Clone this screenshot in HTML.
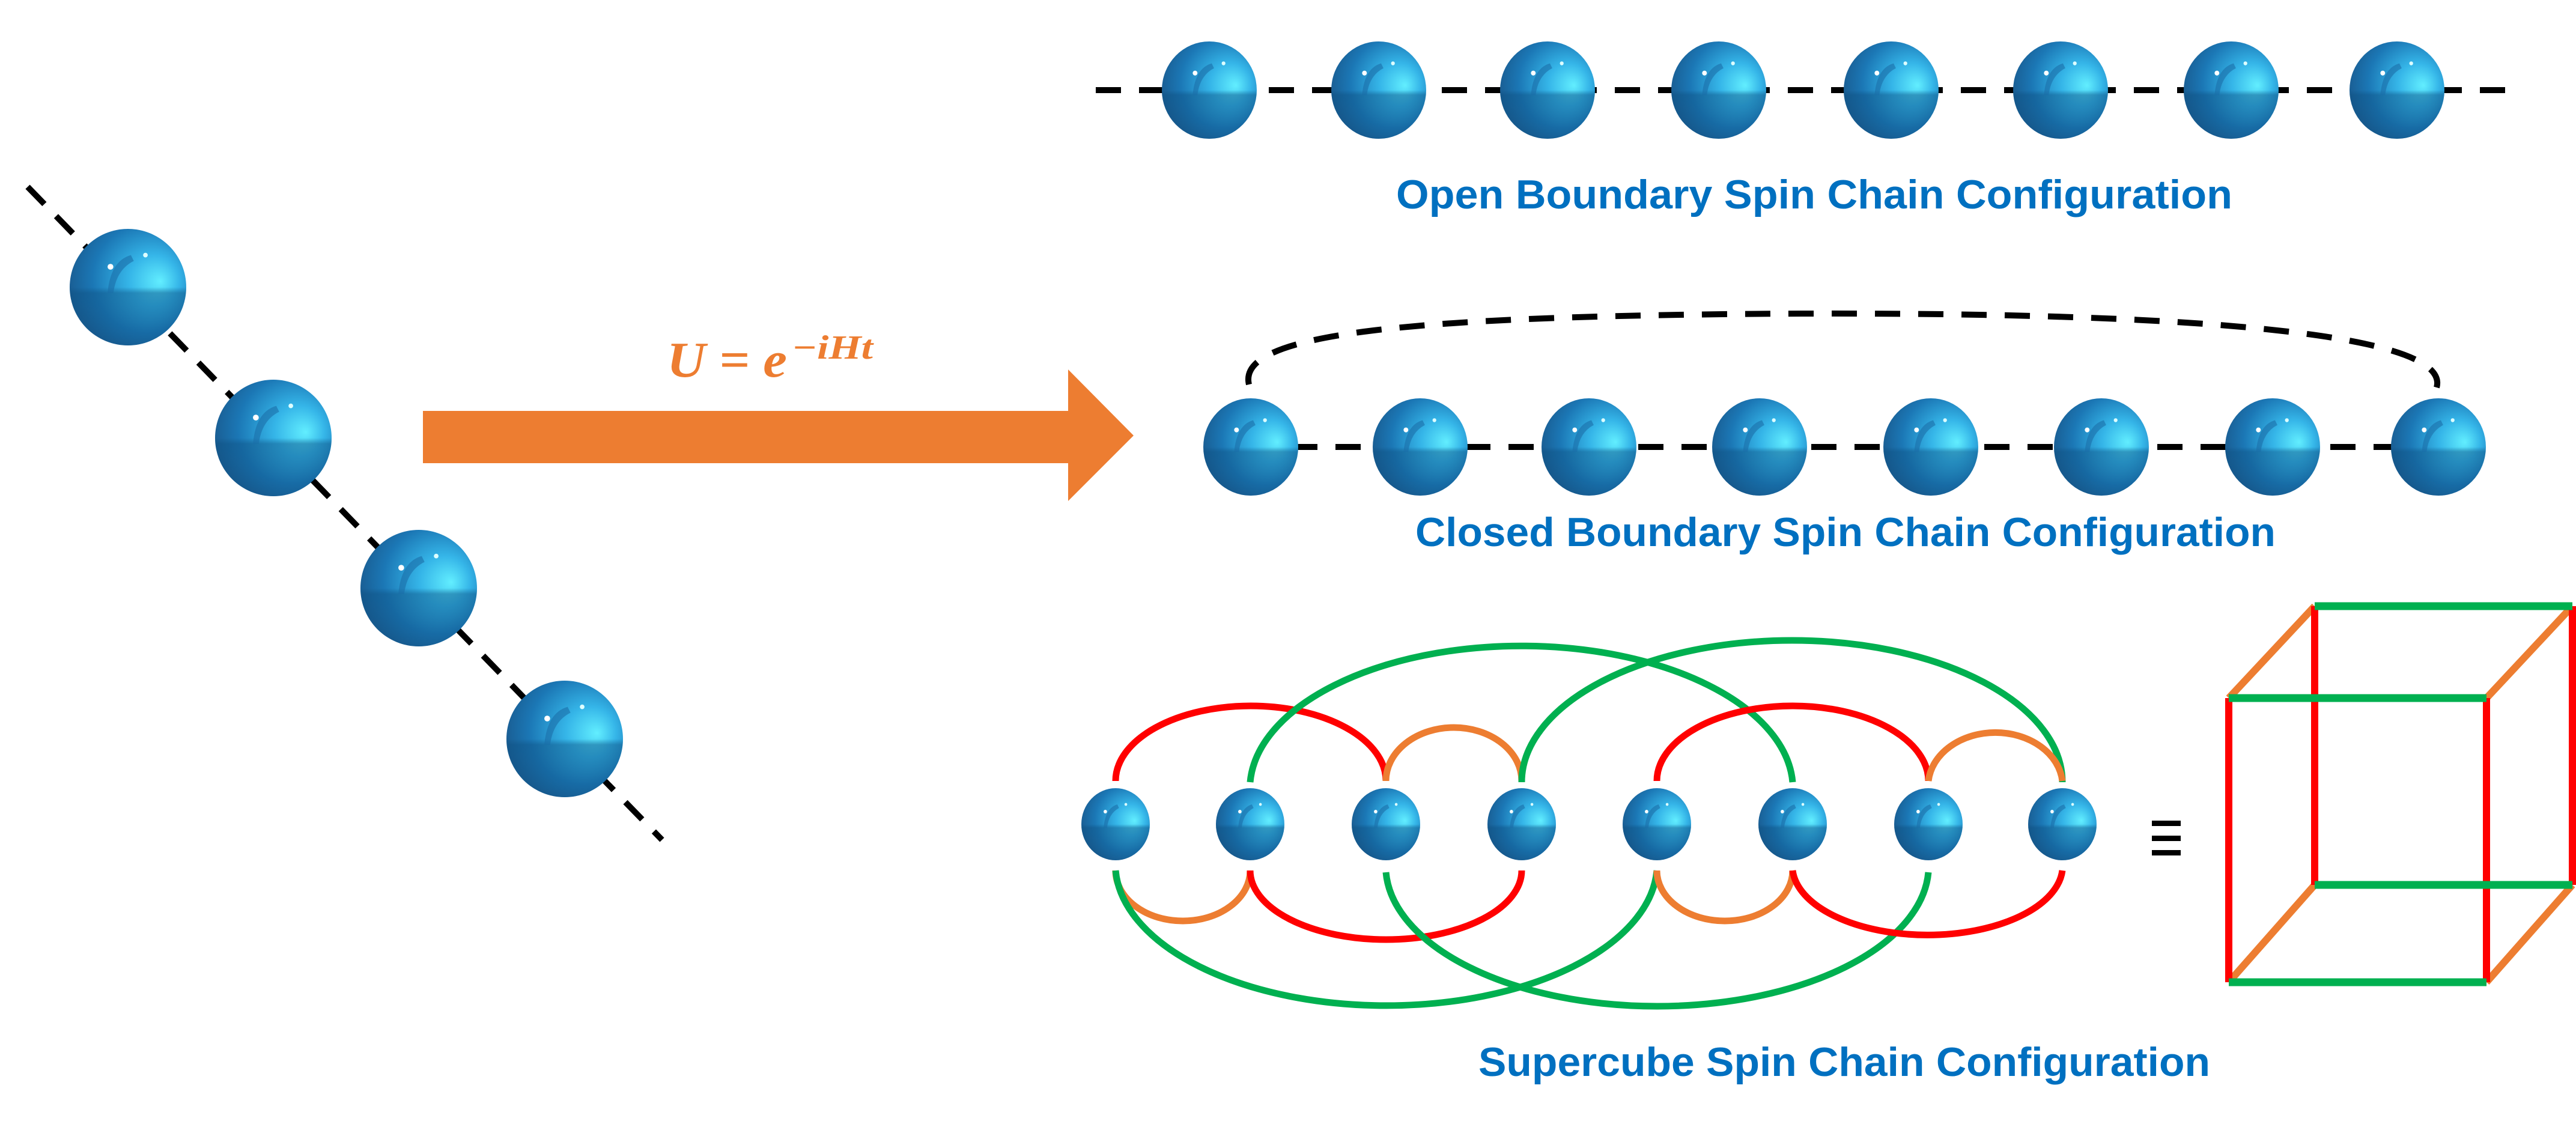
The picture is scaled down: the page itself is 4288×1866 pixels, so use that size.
<!DOCTYPE html>
<html><head><meta charset="utf-8"><style>
html,body{margin:0;padding:0;background:#fff;}
svg{display:block;}
.lbl{font-family:"Liberation Sans",sans-serif;font-weight:bold;fill:#0070C0;}
</style></head><body>
<svg width="4288" height="1866" viewBox="0 0 4288 1866" xmlns="http://www.w3.org/2000/svg">
<defs>
<radialGradient id="sg" cx="0.62" cy="0.42" r="0.62" fx="0.78" fy="0.45">
<stop offset="0" stop-color="#62EEFF"/>
<stop offset="0.35" stop-color="#35B5E8"/>
<stop offset="0.75" stop-color="#1B77B5"/>
<stop offset="1" stop-color="#1A5F95"/>
</radialGradient>
<linearGradient id="dk" x1="0" y1="0" x2="0" y2="1">
<stop offset="0" stop-color="#0d4f80" stop-opacity="0"/>
<stop offset="0.5" stop-color="#0d4f80" stop-opacity="0.0"/>
<stop offset="0.55" stop-color="#0d4f80" stop-opacity="0.45"/>
<stop offset="1" stop-color="#0d4f80" stop-opacity="0.25"/>
</linearGradient>
<g id="sp">
<circle r="1" fill="url(#sg)"/>
<circle r="1" fill="url(#dk)"/>
<path d="M-0.35,0.1 Q-0.3,-0.45 0.05,-0.55 L0.1,-0.45 Q-0.2,-0.3 -0.25,0.1Z" fill="#1a6ea8" opacity="0.6"/>
<circle cx="-0.3" cy="-0.35" r="0.05" fill="#fff"/>
<circle cx="0.3" cy="-0.55" r="0.04" fill="#dff"/>
</g>
</defs>

<line x1="46" y1="311" x2="1102" y2="1398" stroke="#000" stroke-width="10" stroke-dasharray="40,28"/>
<use href="#sp" transform="translate(213,478) scale(97)"/>
<use href="#sp" transform="translate(455,729) scale(97)"/>
<use href="#sp" transform="translate(697,979) scale(97)"/>
<use href="#sp" transform="translate(940,1230) scale(97)"/>

<polygon points="704,684 1778,684 1778,615 1887,725 1778,834 1778,771 704,771" fill="#ED7D31"/>
<text x="1110" y="627" font-family="Liberation Serif,serif" font-weight="bold" font-style="italic" font-size="84" fill="#ED7D31" textLength="200" lengthAdjust="spacingAndGlyphs">U = e</text>
<text x="1318" y="597" font-family="Liberation Serif,serif" font-weight="bold" font-style="italic" font-size="56" fill="#ED7D31" textLength="135" lengthAdjust="spacingAndGlyphs">−iHt</text>

<line x1="1824" y1="150" x2="4174" y2="150" stroke="#000" stroke-width="10" stroke-dasharray="42,30"/>
<g>
<use href="#sp" transform="translate(2013,150) scale(79,81)"/>
<use href="#sp" transform="translate(2295,150) scale(79,81)"/>
<use href="#sp" transform="translate(2576,150) scale(79,81)"/>
<use href="#sp" transform="translate(2861,150) scale(79,81)"/>
<use href="#sp" transform="translate(3148,150) scale(79,81)"/>
<use href="#sp" transform="translate(3430,150) scale(79,81)"/>
<use href="#sp" transform="translate(3714,150) scale(79,81)"/>
<use href="#sp" transform="translate(3990,150) scale(79,81)"/>
</g>
<text class="lbl" x="2324" y="347" font-size="68" textLength="1392" lengthAdjust="spacingAndGlyphs">Open Boundary Spin Chain Configuration</text>

<path d="M2079,640 C2060,560 2300,525 3000,522 C3700,520 4080,560 4056,645" fill="none" stroke="#000" stroke-width="10" stroke-dasharray="42,30"/>
<line x1="2079" y1="744" x2="4056" y2="744" stroke="#000" stroke-width="10" stroke-dasharray="42,30"/>
<g>
<use href="#sp" transform="translate(2082,744) scale(79,81)"/>
<use href="#sp" transform="translate(2364,744) scale(79,81)"/>
<use href="#sp" transform="translate(2645,744) scale(79,81)"/>
<use href="#sp" transform="translate(2929,744) scale(79,81)"/>
<use href="#sp" transform="translate(3214,744) scale(79,81)"/>
<use href="#sp" transform="translate(3498,744) scale(79,81)"/>
<use href="#sp" transform="translate(3783,744) scale(79,81)"/>
<use href="#sp" transform="translate(4059,744) scale(79,81)"/>
</g>
<text class="lbl" x="2356" y="909" font-size="68" textLength="1432" lengthAdjust="spacingAndGlyphs">Closed Boundary Spin Chain Configuration</text>

<g fill="none" stroke-width="11">
<path d="M1857,1300 A225,125 0 0 1 2307,1300" stroke="#FF0000"/>
<path d="M2307,1300 A113,89 0 0 1 2533,1300" stroke="#ED7D31"/>
<path d="M2081,1302 A452,238 0 0 1 2984,1302" stroke="#00B050"/>
<path d="M2533,1302 A450,236 0 0 1 3433,1302" stroke="#00B050"/>
<path d="M2758,1300 A226,125 0 0 1 3210,1300" stroke="#FF0000"/>
<path d="M3210,1300 A112,89 0 0 1 3433,1300" stroke="#ED7D31"/>

<path d="M1857,1449 A112,84 0 0 0 2081,1449" stroke="#ED7D31"/>
<path d="M2081,1449 A226,115 0 0 0 2533,1449" stroke="#FF0000"/>
<path d="M1857,1449 A451,236 0 0 0 2758,1449" stroke="#00B050"/>
<path d="M2307,1452 A452,234 0 0 0 3210,1452" stroke="#00B050"/>
<path d="M2758,1449 A113,84 0 0 0 2984,1449" stroke="#ED7D31"/>
<path d="M2984,1449 A225,115 0 0 0 3433,1449" stroke="#FF0000"/>
</g>
<g>
<use href="#sp" transform="translate(1857,1372) scale(57,60)"/>
<use href="#sp" transform="translate(2081,1372) scale(57,60)"/>
<use href="#sp" transform="translate(2307,1372) scale(57,60)"/>
<use href="#sp" transform="translate(2533,1372) scale(57,60)"/>
<use href="#sp" transform="translate(2758,1372) scale(57,60)"/>
<use href="#sp" transform="translate(2984,1372) scale(57,60)"/>
<use href="#sp" transform="translate(3210,1372) scale(57,60)"/>
<use href="#sp" transform="translate(3433,1372) scale(57,60)"/>
</g>
<rect x="3582" y="1366" width="48" height="9" fill="#000"/>
<rect x="3582" y="1391" width="48" height="9" fill="#000"/>
<rect x="3582" y="1415" width="48" height="9" fill="#000"/>

<g stroke-width="12" fill="none">
<line x1="3710" y1="1162" x2="3853" y2="1009" stroke="#ED7D31"/>
<line x1="4139" y1="1162" x2="4282" y2="1009" stroke="#ED7D31"/>
<line x1="3710" y1="1635" x2="3853" y2="1473" stroke="#ED7D31"/>
<line x1="4139" y1="1635" x2="4282" y2="1473" stroke="#ED7D31"/>
<line x1="3853" y1="1009" x2="3853" y2="1473" stroke="#FF0000"/>
<line x1="4282" y1="1009" x2="4282" y2="1473" stroke="#FF0000"/>
<line x1="3710" y1="1162" x2="3710" y2="1635" stroke="#FF0000"/>
<line x1="4139" y1="1162" x2="4139" y2="1635" stroke="#FF0000"/>
<line x1="3853" y1="1009" x2="4282" y2="1009" stroke="#00B050" stroke-width="13"/>
<line x1="3853" y1="1473" x2="4282" y2="1473" stroke="#00B050" stroke-width="13"/>
<line x1="3710" y1="1162" x2="4139" y2="1162" stroke="#00B050" stroke-width="13"/>
<line x1="3710" y1="1635" x2="4139" y2="1635" stroke="#00B050" stroke-width="13"/>
</g>
<text class="lbl" x="2461" y="1791" font-size="68" textLength="1218" lengthAdjust="spacingAndGlyphs">Supercube Spin Chain Configuration</text>
</svg>
</body></html>
